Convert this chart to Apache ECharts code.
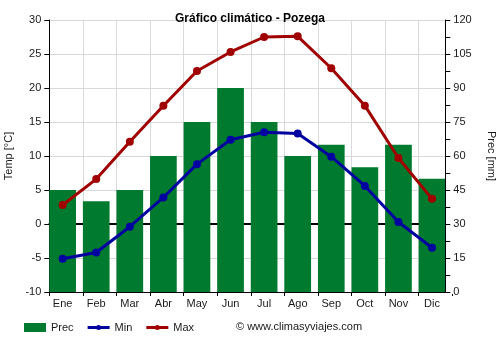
<!DOCTYPE html>
<html>
<head>
<meta charset="utf-8">
<script src="https://cdn.jsdelivr.net/npm/echarts@6/dist/echarts.min.js"></script>
<style>
  html, body { margin: 0; padding: 0; background: #fff; }
  #chart { width: 500px; height: 350px; }
</style>
</head>
<body>
<div id="chart"></div>
<script>
// Monthly climate data for Pozega
const months = ['Ene', 'Feb', 'Mar', 'Abr', 'May', 'Jun', 'Jul', 'Ago', 'Sep', 'Oct', 'Nov', 'Dic'];
const precMm = [45, 40, 45, 60, 75, 90, 75, 60, 65, 55, 65, 50];
const tempMin = [-5.1, -4.2, -0.4, 3.9, 8.8, 12.4, 13.5, 13.3, 9.9, 5.6, 0.3, -3.5];
const tempMax = [2.8, 6.6, 12.1, 17.4, 22.5, 25.3, 27.5, 27.6, 22.9, 17.4, 9.7, 3.7];

// Axis ranges and ticks
const tempTicks = { min: -10, max: 30, interval: 5 };
const precTicks = { min: 0, max: 120, interval: 15 };

const FONT = 'Liberation Sans, Arial, sans-serif';
const TEXT = '#1a1a1a';

// Frame grid: month slots of equal width, the last one cut by the right axis
const frameLeft = 49.3, slotW = 33.58, plotTop = 20, plotBottom = 292;
const gridWidth = slotW * months.length;
const cutRight = 445.3;
// Data grid is shifted so that each mark sits at the centre of its bar
const barW = 26.7;
const dataLeft = frameLeft + barW / 2 - slotW / 2;

// Legend icon for the temperature lines: thick stroke with a small dot
const lineIcon = 'path://M0,0h0.01v0.01zM22,9h-0.01v-0.01zM0,3H22V6H0ZM8.5,4.5a2.5,2.5 0 1,1 5,0a2.5,2.5 0 1,1 -5,0Z';

const chart = echarts.init(document.getElementById('chart'), null, { renderer: 'canvas' });

const hiddenAxis = { show: false };

chart.setOption({
  animation: false,
  backgroundColor: '#fff',
  title: {
    text: 'Gráfico climático - Pozega',
    left: 'center',
    top: 8,
    textStyle: { fontFamily: FONT, fontSize: 12, fontWeight: 'bold', color: '#000' }
  },
  legend: {
    left: 24,
    top: 322,
    padding: 0,
    itemWidth: 22,
    itemHeight: 9,
    itemGap: 14,
    textStyle: { fontFamily: FONT, fontSize: 11, color: TEXT },
    data: [
      { name: 'Prec', icon: 'rect' },
      { name: 'Min', icon: lineIcon },
      { name: 'Max', icon: lineIcon }
    ]
  },
  grid: [
    { left: frameLeft, width: gridWidth, top: plotTop, height: plotBottom - plotTop, containLabel: false, outerBoundsMode: 'none' },
    { left: dataLeft, width: gridWidth, top: plotTop, height: plotBottom - plotTop, containLabel: false, outerBoundsMode: 'none' }
  ],
  xAxis: [
    {
      type: 'category', gridIndex: 0, data: months, boundaryGap: true, position: 'bottom',
      axisLine: { show: true, onZero: false, lineStyle: { color: '#000', width: 1 } },
      axisTick: { show: true, length: 4, lineStyle: { color: '#000' } },
      axisLabel: { show: false },
      splitLine: { show: true, lineStyle: { color: '#d9d9d9', width: 1 } }
    },
    {
      // zero-degree reference line
      type: 'category', gridIndex: 0, data: months, position: 'top',
      axisLine: { show: true, onZero: true, onZeroAxisIndex: 0, lineStyle: { color: '#000', width: 2 } },
      axisTick: { show: false }, axisLabel: { show: false }, splitLine: { show: false }
    },
    {
      type: 'category', gridIndex: 1, data: months, boundaryGap: true,
      axisLine: { show: false }, axisTick: { show: false },
      axisLabel: { show: true, margin: 6, fontFamily: FONT, fontSize: 11, color: TEXT },
      splitLine: { show: false }
    }
  ],
  yAxis: [
    {
      type: 'value', gridIndex: 0, position: 'left',
      min: tempTicks.min, max: tempTicks.max, interval: tempTicks.interval,
      name: 'Temp [°C]', nameLocation: 'middle', nameGap: 33, nameRotate: 90,
      nameTextStyle: { fontFamily: FONT, fontSize: 11, color: TEXT },
      axisLine: { show: true, lineStyle: { color: '#000' } },
      axisTick: { show: true, length: 5, lineStyle: { color: '#000' } },
      axisLabel: { margin: 8, fontFamily: FONT, fontSize: 11, color: TEXT },
      splitLine: { show: true, lineStyle: { color: '#d9d9d9', width: 1 } }
    },
    {
      type: 'value', gridIndex: 0, position: 'right', offset: -(frameLeft + gridWidth - cutRight),
      z: 5,
      min: precTicks.min, max: precTicks.max, interval: precTicks.interval,
      name: 'Prec [mm]', nameLocation: 'middle', nameGap: 40, nameRotate: -90,
      nameTextStyle: { fontFamily: FONT, fontSize: 11, color: TEXT },
      axisLine: { show: true, lineStyle: { color: '#000' } },
      axisTick: { show: true, length: 5, lineStyle: { color: '#000' } },
      minorTick: { show: true, splitNumber: 2, length: 5, lineStyle: { color: '#000' } },
      axisLabel: { margin: 8, fontFamily: FONT, fontSize: 11, color: TEXT },
      splitLine: { show: false }
    },
    Object.assign({ type: 'value', gridIndex: 1, min: tempTicks.min, max: tempTicks.max, interval: tempTicks.interval }, hiddenAxis),
    Object.assign({ type: 'value', gridIndex: 1, min: precTicks.min, max: precTicks.max, interval: precTicks.interval }, hiddenAxis)
  ],
  graphic: [
    {
      // trims the part of the last month slot that lies beyond the right axis
      type: 'rect', z: 1, silent: true,
      shape: { x: cutRight + 0.5, y: plotTop - 2, width: frameLeft + gridWidth - cutRight + 2, height: plotBottom - plotTop + 4 },
      style: { fill: '#fff' }
    },
    {
      // copyright line next to the legend
      type: 'text', left: 236, top: 321, silent: true,
      style: { text: '© www.climasyviajes.com', fontFamily: FONT, fontSize: 11, fill: TEXT }
    }
  ],
  series: [
    {
      name: 'Prec', type: 'bar', xAxisIndex: 2, yAxisIndex: 3,
      data: precMm, barWidth: barW,
      itemStyle: { color: '#007a2e' }
    },
    {
      name: 'Min', type: 'line', xAxisIndex: 2, yAxisIndex: 2,
      data: tempMin, symbol: 'circle', symbolSize: 8,
      lineStyle: { color: '#0000a0', width: 3 },
      itemStyle: { color: '#0000a0' }
    },
    {
      name: 'Max', type: 'line', xAxisIndex: 2, yAxisIndex: 2,
      data: tempMax, symbol: 'circle', symbolSize: 8,
      lineStyle: { color: '#a00000', width: 3 },
      itemStyle: { color: '#a00000' }
    }
  ]
});
</script>
</body>
</html>
